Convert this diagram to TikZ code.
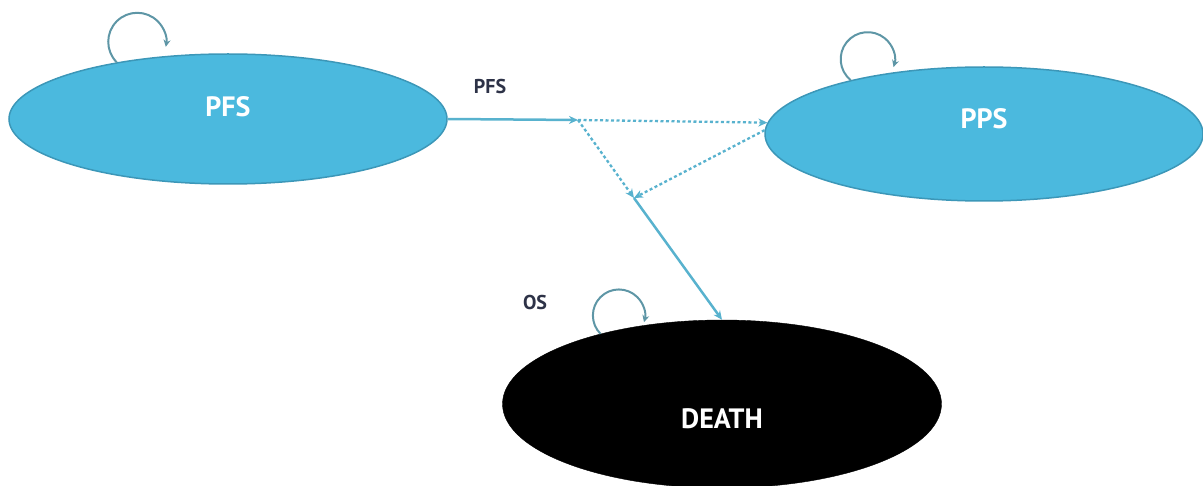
\documentclass[tikz,border=0pt]{standalone}
\usepackage{fontspec}
\setmainfont{PT Sans}
\usetikzlibrary{shapes.geometric,arrows.meta}
\definecolor{ellblue}{HTML}{4BB9DE}
\definecolor{ellborder}{HTML}{3C97B8}
\definecolor{linecol}{HTML}{58B2CE}
\definecolor{loopcol}{HTML}{5E96A6}
\definecolor{labcol}{HTML}{2D3247}
\tikzset{
  state/.style={ellipse, draw=ellborder, line width=1.5pt, fill=ellblue, inner sep=0pt},
  intext/.style={text=white, font=\bfseries\fontsize{28}{30}\selectfont},
  lab/.style={text=labcol, font=\bfseries\fontsize{20}{24}\selectfont},
  solidl/.style={draw=linecol, line width=2.5pt, -{Stealth[length=9pt,width=8pt]}},
  dotl/.style={draw=linecol, line width=2.3pt, dash pattern=on 3pt off 2.5pt, -{Stealth[length=9pt,width=8pt]}},
  loopl/.style={draw=loopcol, line width=2pt, -{Stealth[length=7pt,width=7pt]}},
}
\begin{document}
\begin{tikzpicture}[x=1pt,y=1pt]
\useasboundingbox (0,0) rectangle (1203,-486);
% states
\node[state, minimum width=438pt, minimum height=130pt] (pfs) at (228,-119) {};
\node[state, minimum width=438pt, minimum height=134pt] (pps) at (984,-134) {};
\node[ellipse, fill=black, draw=black, inner sep=0pt, minimum width=439pt, minimum height=168pt] (death) at (722,-404) {};
\node[intext] (pfst) at ([yshift=12pt]pfs.center) {PFS};
\node[intext] (ppst) at ([yshift=15pt]pps.center) {PPS};
\node[intext] (deatht) at ([yshift=-15pt]death.center) {DEATH};
% labels
\node[lab] (pfslab) at (490,-87) {PFS};
\node[lab] (oslab) at (535,-303) {OS};
% junctions
\coordinate (A) at (578,-120);
\coordinate (B) at (634,-198);
% connectors
\draw[solidl] (pfs.east) -- (A);
\draw[dotl] (A) -- (pps.177);
\draw[dotl] (A) -- (B);
\draw[dotl] (pps.179) -- (B);
\draw[solidl] (B) -- (death.north);
% self loops
\draw[loopl] (pfs.153) arc[start angle=225, end angle=-10, radius=29];
\draw[loopl] (pps.158) arc[start angle=231, end angle=-17, radius=27];
\draw[loopl] (death.150) arc[start angle=225, end angle=-15, radius=26];
\end{tikzpicture}
\end{document}
